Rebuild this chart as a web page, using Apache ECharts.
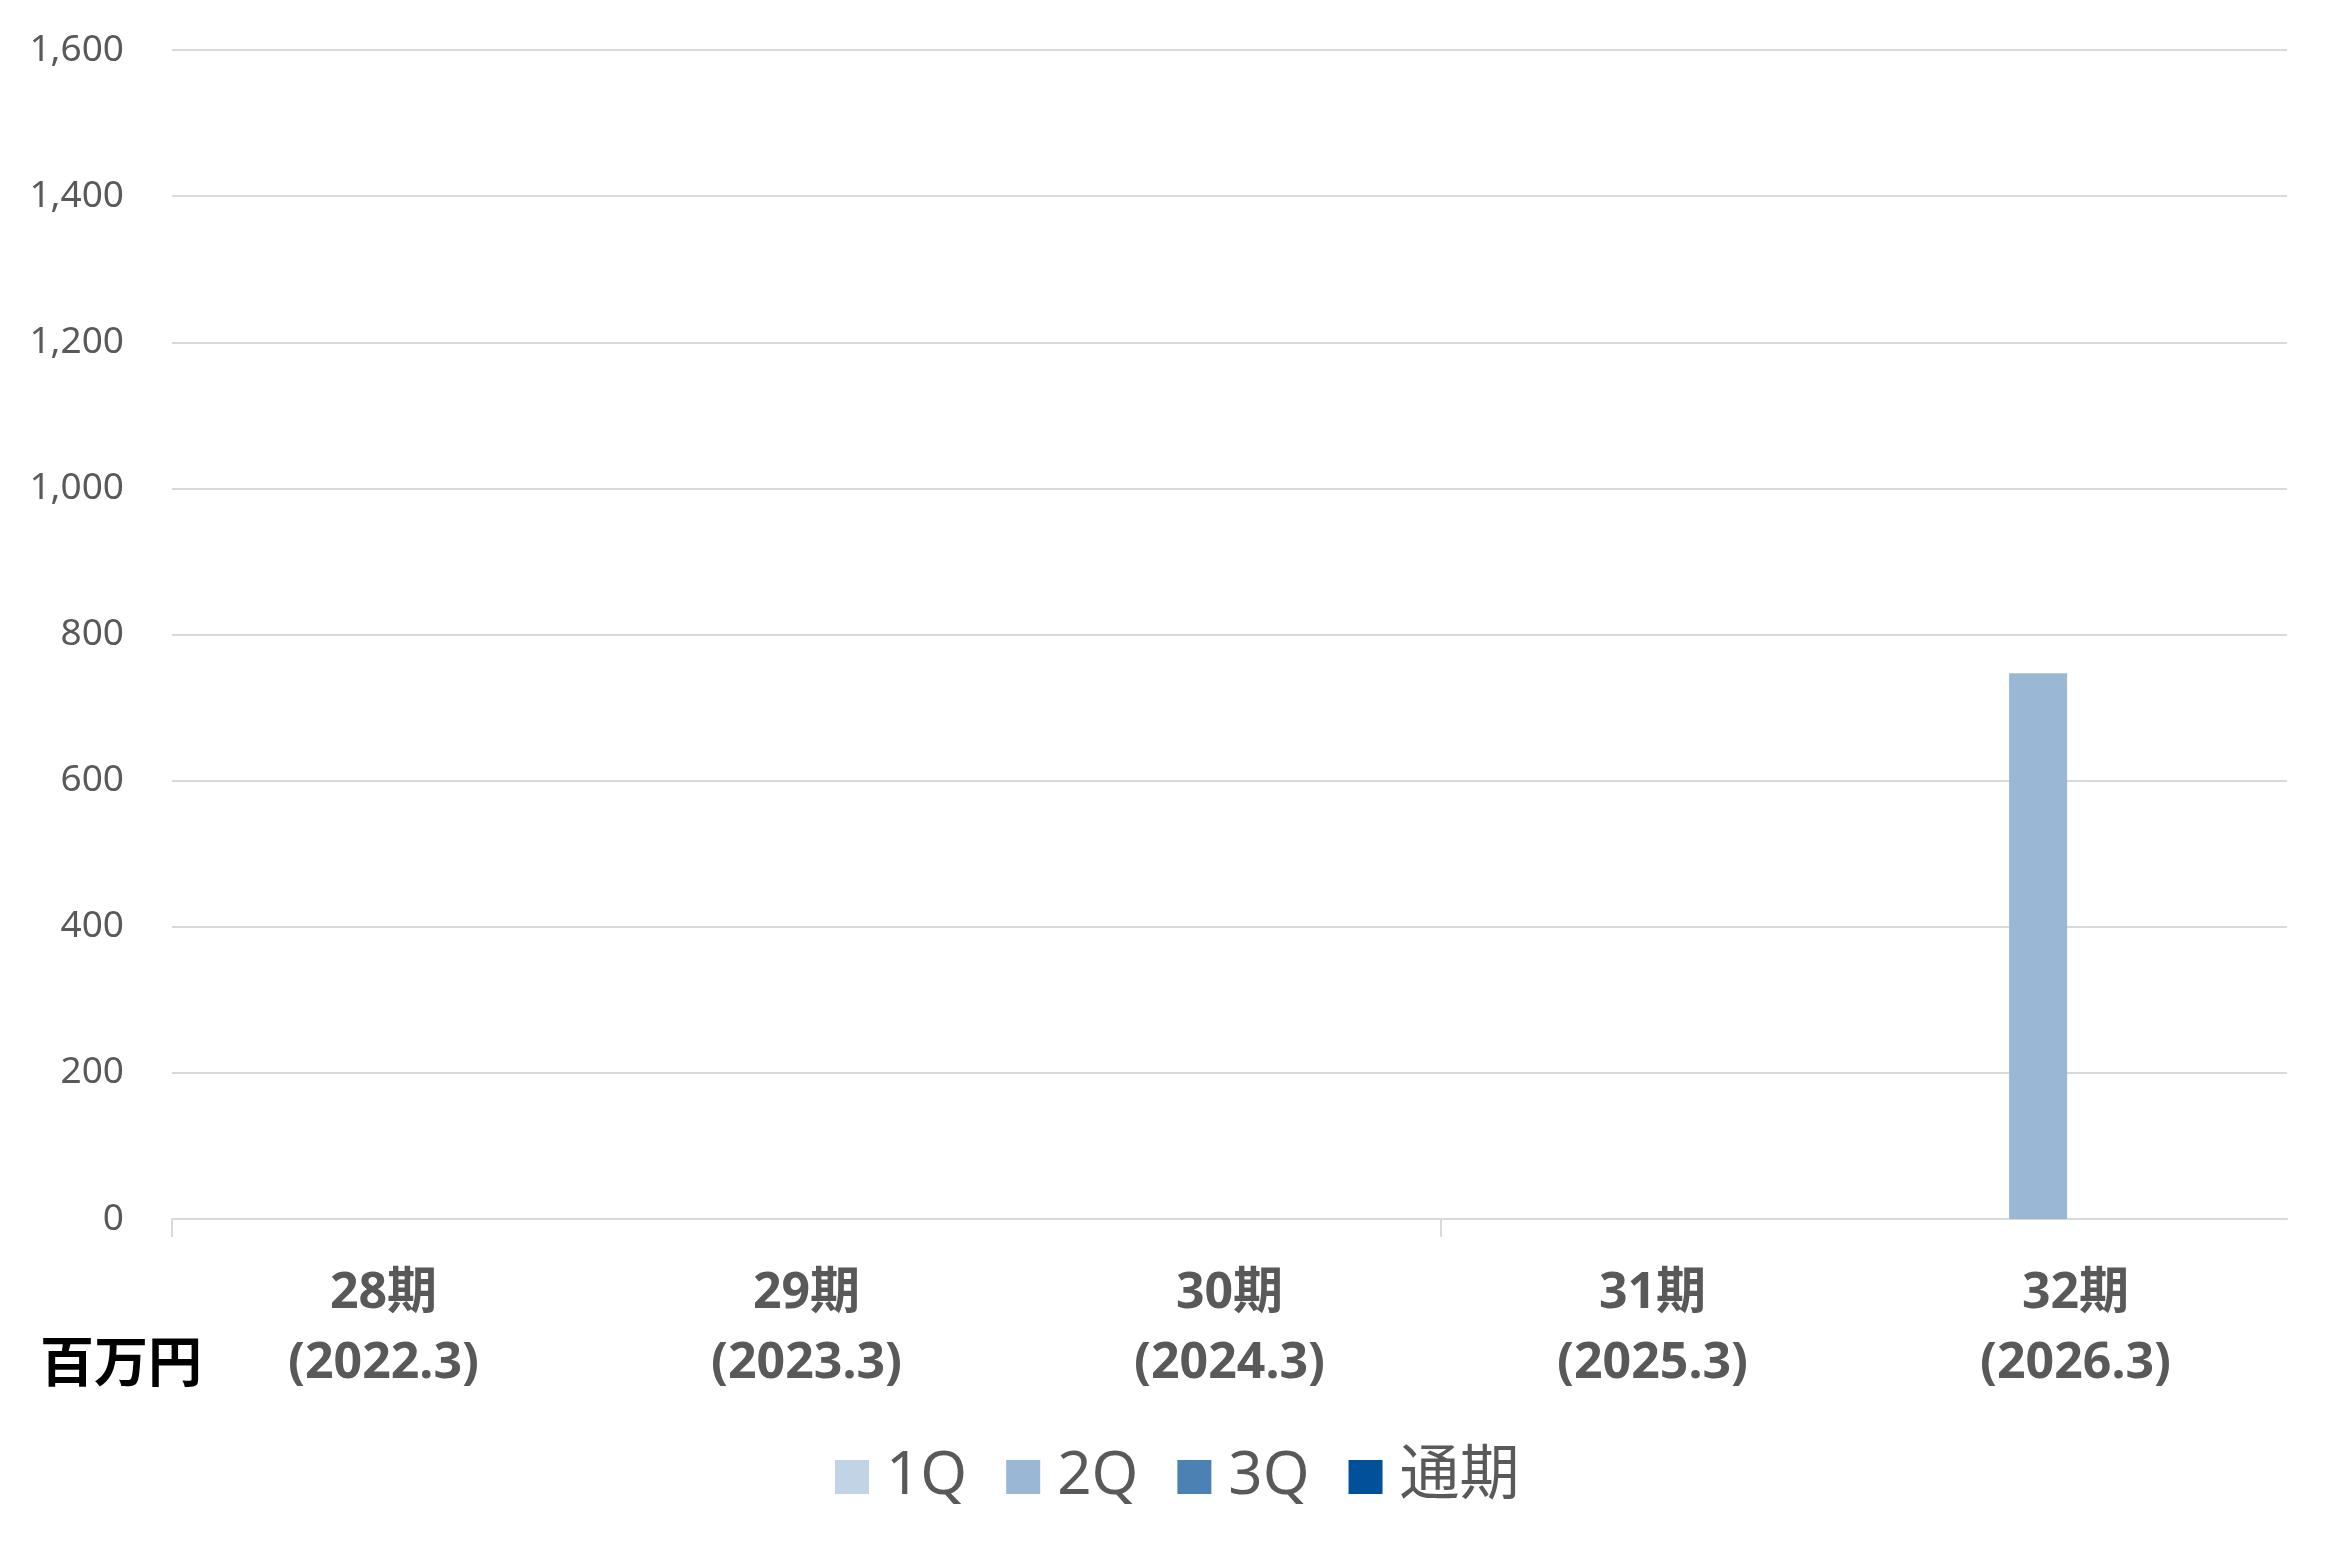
<!DOCTYPE html>
<html>
<head>
<meta charset="utf-8">
<script src="https://cdn.jsdelivr.net/npm/echarts@6/dist/echarts.min.js"></script>
<style>html,body{margin:0;padding:0;background:#fff}#c{width:2339px;height:1556px}</style>
</head>
<body>
<div id="c"></div>
<script>
const categories = ['28期\n(2022.3)', '29期\n(2023.3)', '30期\n(2024.3)', '31期\n(2025.3)', '32期\n(2026.3)'];
const seriesNames = ['1Q', '2Q', '3Q', '通期'];
const q1 = [null, null, null, null, null];
const q2 = [null, null, null, null, 747];
const q3 = [null, null, null, null, null];
const fullYear = [null, null, null, null, null];
const colors = ['#C1D4E6', '#9AB8D5', '#4A82B4', '#00509A'];
const unitLabel = '百万円';

const FONT = '"Noto Sans", "Noto Sans CJK JP", sans-serif';
const chart = echarts.init(document.getElementById('c'));
const data = [q1, q2, q3, fullYear];
// boundaries between categories (one more than categories), used only for tick marks
const boundaries = categories.map(function (c, i) { return String(i); }).concat([String(categories.length)]);
chart.setOption({
  backgroundColor: '#fff',
  animation: false,
  color: colors,
  grid: { left: 172, right: 52, top: 50, bottom: 337, containLabel: false },
  legend: {
    bottom: 44,
    left: 830,
    itemWidth: 34,
    itemHeight: 34,
    itemGap: 39,
    icon: 'rect',
    textStyle: { fontFamily: FONT, fontSize: 60, color: '#595959', padding: [0, 0, 0, 12] },
    data: seriesNames
  },
  xAxis: [{
    type: 'category',
    data: categories,
    axisLine: { lineStyle: { color: '#D9D9D9', width: 2 } },
    axisTick: { show: false },
    axisLabel: { fontFamily: FONT, fontSize: 50, fontWeight: 'bold', color: '#595959', lineHeight: 70, margin: 40, interval: 0 }
  }, {
    type: 'category',
    data: boundaries,
    boundaryGap: false,
    position: 'bottom',
    axisLine: { show: false },
    axisLabel: { show: false },
    splitLine: { show: false },
    axisTick: { show: true, length: 18, interval: function (i) { return i % 3 === 0 && i < categories.length; }, lineStyle: { color: '#D9D9D9', width: 2 } }
  }],
  yAxis: {
    type: 'value',
    min: 0, max: 1600, interval: 200,
    axisLine: { show: false },
    axisTick: { show: false },
    splitLine: { lineStyle: { color: '#D9D9D9', width: 2 } },
    axisLabel: {
      fontFamily: FONT, fontSize: 37, color: '#595959', margin: 48,
      formatter: function (v) { return v.toLocaleString('en-US'); }
    }
  },
  graphic: [{
    type: 'text', left: 40, top: 1340,
    style: { text: unitLabel, font: 'bold 54px ' + FONT, fill: '#000' }
  }],
  series: seriesNames.map(function (n, i) {
    return { name: n, type: 'bar', xAxisIndex: 0, data: data[i], barWidth: 58, barGap: '29%', itemStyle: { color: colors[i] } };
  })
});
</script>
</body>
</html>
